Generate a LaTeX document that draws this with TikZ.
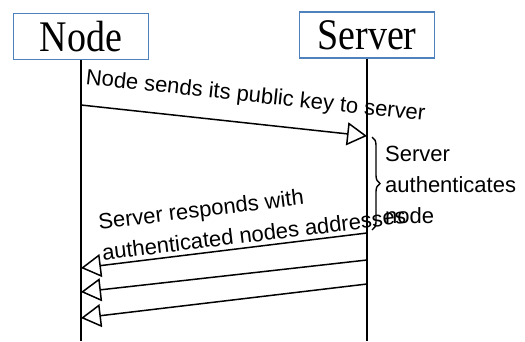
\documentclass[tikz,border=0pt]{standalone}
\usepackage{fontspec}
\setmainfont{Liberation Serif}
\setsansfont{Liberation Sans}
\usetikzlibrary{arrows.meta,decorations.pathreplacing}
\definecolor{boxblue}{HTML}{4F81BD}
\newcommand{\tallname}[1]{\scalebox{1}[1.15]{#1}}
\begin{document}
\begin{tikzpicture}[x=1pt,y=-1pt]
\tikzstyle{actor}=[draw=boxblue,line width=1.6pt,minimum width=135pt,minimum height=46pt,
inner sep=0pt,font=\fontsize{38}{38}\selectfont]
\tikzstyle{msg}=[line width=1.5pt,-{Triangle[open,length=20pt,width=23pt]}]
\tikzstyle{lbl}=[font=\sffamily\fontsize{22}{31}\selectfont,inner sep=1pt]
\useasboundingbox (0,0) rectangle (525,341);

\draw (81,36.5) node[actor] (node) {\tallname{Node}};
\draw (367,35) node[actor] (server) {\tallname{Server}};
\coordinate (nbot) at (81,341);
\coordinate (sbot) at (367,341);
\draw [line width=1.6pt] (node.south) -- (nbot);
\draw [line width=1.6pt] (server.south) -- (sbot);

\coordinate (n1) at (81,105);
\coordinate (s1) at (367,136);
\coordinate (s2) at (367,233);
\coordinate (n2) at (81,268);
\coordinate (s3) at (367,260);
\coordinate (n3) at (81,292);
\coordinate (s4) at (367,284);
\coordinate (n4) at (81,318);

\draw [msg] (n1) to node[lbl,sloped,above=15pt,pos=0.6] {Node sends its public key to server} (s1);
\draw [msg] (s2) to node[lbl,sloped,above=3pt,pos=0.39,align=left] {Server responds with\\authenticated nodes addresses} (n2);
\draw [msg] (s3) to (n3);
\draw [msg] (s4) to (n4);

% server side check
\coordinate (b1) at (372,137);
\coordinate (b2) at (372,230);
\draw [line width=1.4pt,decorate,decoration={brace,amplitude=8pt}] (b1) -- (b2);
\node[lbl,anchor=west,align=left] (auth) at (384,185) {Server\\authenticates\\node};
\end{tikzpicture}
\end{document}
